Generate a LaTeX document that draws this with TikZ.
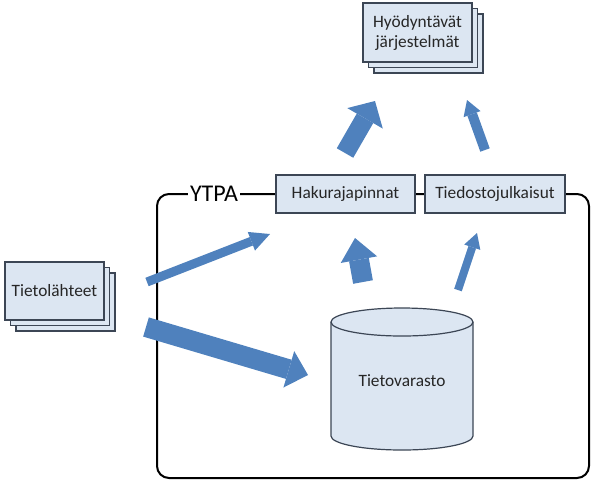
\documentclass[tikz,border=0pt]{standalone}
\usepackage{fontspec}
\setmainfont{Carlito}
\usetikzlibrary{arrows.meta}
\definecolor{arrowblue}{RGB}{79,129,189}
\definecolor{boxfill}{RGB}{220,230,242}
\definecolor{boxdraw}{RGB}{60,70,85}
\definecolor{txt}{RGB}{38,38,38}
\tikzset{
  boxbase/.style={draw=boxdraw, fill=boxfill, line width=0.9pt, inner sep=0pt,
    text=txt, font=\fontsize{13}{15}\selectfont, align=center},
  stackbox/.style n args={2}{boxbase, minimum width=#1*0.75pt, minimum height=#2*0.75pt},
  barrow/.style n args={3}{draw=arrowblue, line width=#1*0.75pt,
    -{Triangle[width=#2*0.75pt, length=#3*0.75pt, line width=0pt]}},
}
\begin{document}
\begin{tikzpicture}[x=0.75pt,y=-0.75pt]
\useasboundingbox (0,0) rectangle (592,480);
% frame
\draw[line width=1.5pt, rounded corners=9pt] (157,194) rectangle (589,478);
\node[fill=white, inner xsep=1.5pt, inner ysep=0pt, font=\fontsize{18}{21}\selectfont] (ytpa) at (214,194) {YTPA};
% top boxes
\node[stackbox={139}{38}] (haku) at (345.5,194) {Hakurajapinnat};
\node[stackbox={140}{38}] (tied) at (495,194) {Tiedostojulkaisut};
% Hyodyntavat stack
\node[stackbox={109}{59}] (h3) at (428.5,43.5) {};
\node[stackbox={109}{59}] (h2) at (423,38) {};
\node[stackbox={109}{59}] (hyo) at (417.5,32.5) {Hyödyntävät\\järjestelmät};
% Tietolahteet stack
\node[stackbox={99}{58}] (t3) at (65.5,302) {};
\node[stackbox={99}{58}] (t2) at (60,296.5) {};
\node[stackbox={99}{58}] (tl) at (54.5,291) {Tietolähteet};
% cylinder
\draw[draw=boxdraw, fill=boxfill, line width=0.9pt]
  (331,322) -- (331,436) arc[start angle=180, end angle=0, x radius=71, y radius=14]
  -- (473,322) arc[start angle=0, end angle=-180, x radius=71, y radius=14] -- cycle;
\draw[draw=boxdraw, line width=0.9pt]
  (331,322) arc[start angle=180, end angle=0, x radius=71, y radius=14];
\node[text=txt, font=\fontsize{13}{15}\selectfont] (tv) at (402,381) {Tietovarasto};
% arrow end points
\coordinate (a1s) at (147,282); \coordinate (a1e) at (270,234);
\coordinate (a2s) at (146,327); \coordinate (a2e) at (308,375);
\coordinate (a3s) at (363,282); \coordinate (a3e) at (355,238);
\coordinate (a4s) at (458,290); \coordinate (a4e) at (477,233);
\coordinate (a5s) at (345,153); \coordinate (a5e) at (375,101);
\coordinate (a6s) at (485,150); \coordinate (a6e) at (467,100);
\draw[barrow={9}{20}{20}] (a1s) -- (a1e);
\draw[barrow={20}{38}{20}] (a2s) -- (a2e);
\draw[barrow={20}{37}{22}] (a3s) -- (a3e);
\draw[barrow={8}{17}{15}] (a4s) -- (a4e);
\draw[barrow={19}{41}{20}] (a5s) -- (a5e);
\draw[barrow={10}{18}{15}] (a6s) -- (a6e);
\end{tikzpicture}
\end{document}
